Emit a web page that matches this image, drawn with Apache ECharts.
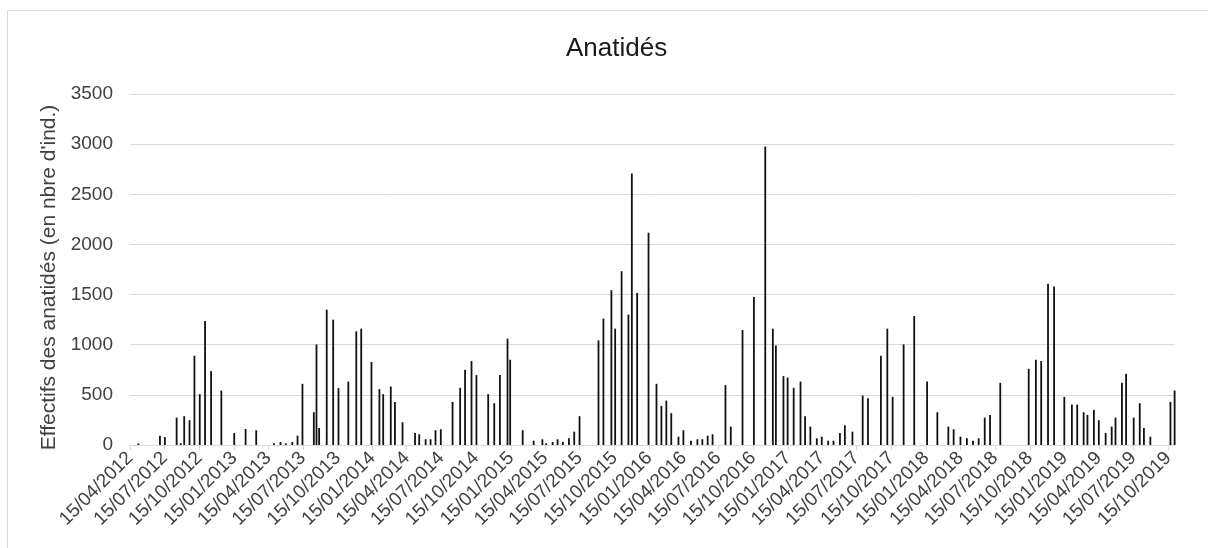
<!DOCTYPE html>
<html>
<head>
<meta charset="utf-8">
<script src="https://cdn.jsdelivr.net/npm/echarts@6/dist/echarts.min.js"></script>
<style>
  html, body { margin: 0; padding: 0; background: #fff; }
  #frame { position: absolute; left: 7px; top: 10px; width: 1300px; height: 700px; border: 1px solid #d9d9d9; box-sizing: border-box; }
  #chart { position: absolute; left: 0; top: 0; width: 1208px; height: 548px; }
</style>
</head>
<body>
<div id="frame"></div>
<div id="chart"></div>
<script>
const titleText = "Anatidés";
const yAxisName = "Effectifs des anatidés (en nbre d'ind.)";

const dates = [
  "2012-05-07","2012-07-03","2012-07-16","2012-08-16","2012-08-27","2012-09-05","2012-09-19","2012-10-02","2012-10-16","2012-10-30",
  "2012-11-15","2012-12-12","2013-01-15","2013-02-14","2013-03-14","2013-04-30","2013-05-17","2013-05-31","2013-06-17","2013-07-01",
  "2013-07-14","2013-08-13","2013-08-20","2013-08-27","2013-09-16","2013-10-03","2013-10-17","2013-11-12","2013-12-03","2013-12-16",
  "2014-01-12","2014-02-02","2014-02-12","2014-03-04","2014-03-15","2014-04-04","2014-05-07","2014-05-18","2014-06-04","2014-06-17",
  "2014-06-30","2014-07-14","2014-08-14","2014-09-03","2014-09-16","2014-10-03","2014-10-16","2014-11-16","2014-12-02","2014-12-17",
  "2015-01-06","2015-01-13","2015-02-15","2015-03-16","2015-04-08","2015-04-18","2015-05-05","2015-05-18","2015-06-01","2015-06-17",
  "2015-07-01","2015-07-15","2015-09-03","2015-09-16","2015-10-07","2015-10-17","2015-11-03","2015-11-21","2015-11-30","2015-12-14",
  "2016-01-13","2016-02-03","2016-02-16","2016-02-29","2016-03-13","2016-04-01","2016-04-14","2016-05-04","2016-05-21","2016-06-03",
  "2016-06-17","2016-06-30","2016-08-03","2016-08-17","2016-09-17","2016-10-17","2016-11-16","2016-12-06","2016-12-14","2017-01-03",
  "2017-01-14","2017-01-30","2017-02-17","2017-03-01","2017-03-15","2017-04-01","2017-04-14","2017-05-01","2017-05-15","2017-06-01",
  "2017-06-14","2017-07-04","2017-07-31","2017-08-14","2017-09-17","2017-10-04","2017-10-18","2017-11-16","2017-12-14","2018-01-17",
  "2018-02-13","2018-03-14","2018-03-28","2018-04-15","2018-05-02","2018-05-18","2018-06-02","2018-06-18","2018-07-02","2018-07-29",
  "2018-10-12","2018-10-31","2018-11-14","2018-12-02","2018-12-18","2019-01-14","2019-02-03","2019-02-17","2019-03-06","2019-03-16",
  "2019-04-02","2019-04-15","2019-05-03","2019-05-19","2019-05-29","2019-06-15","2019-06-26","2019-07-16","2019-08-01","2019-08-12",
  "2019-08-29","2019-10-21","2019-11-01"
];

const counts = [
  15,93,80,273,17,287,247,890,507,1237,
  737,543,120,160,147,17,30,17,30,93,
  610,327,1003,170,1350,1250,567,633,1133,1160,
  827,557,507,583,430,227,120,107,57,57,
  147,157,430,570,750,837,697,507,417,697,
  1060,850,147,43,57,17,30,57,30,67,
  133,287,1043,1260,1543,1160,1733,1300,2707,1517,
  2117,610,390,443,317,83,147,43,57,57,
  93,107,597,183,1147,1477,2977,1160,993,687,
  673,570,633,287,183,67,83,43,43,120,
  197,133,493,467,890,1160,480,1003,1287,633,
  327,183,157,83,67,43,67,273,300,620,
  760,850,837,1607,1580,480,403,403,327,300,
  350,247,120,183,273,620,710,273,417,170,
  83,430,543
];

const toTs = s => { const p = s.split('-').map(Number); return Date.UTC(p[0], p[1] - 1, p[2]); };

// Tick labels: the 15th of Jan/Apr/Jul/Oct, from 15/04/2012 to 15/10/2019
const tickStart = "2012-04-15";
const tickEnd = "2019-10-15";
const tickDates = [];
for (let y = 2012; y <= 2019; y++) {
  for (const m of [0, 3, 6, 9]) {
    const t = Date.UTC(y, m, 15);
    if (t >= toTs(tickStart) && t <= toTs(tickEnd)) tickDates.push(t);
  }
}
const xMin = toTs(tickStart);
const xMax = toTs("2019-11-02");

const yTicks = { min: 0, max: 3500, interval: 500 };

const chart = echarts.init(document.getElementById('chart'));
const pad = n => (n < 10 ? '0' : '') + n;
const FONT = 'Liberation Sans';

chart.setOption({
  animation: false,
  backgroundColor: 'transparent',
  title: {
    text: titleText,
    left: 561,
    top: 31,
    textStyle: { fontFamily: FONT, fontSize: 26, fontWeight: 'normal', color: '#1a1a1a' }
  },
  grid: { left: 130, right: 33, top: 94, bottom: 103, containLabel: false },
  xAxis: {
    type: 'value',
    min: xMin,
    max: xMax,
    axisLine: { show: true, onZero: false, lineStyle: { color: '#d9d9d9', width: 1 } },
    axisTick: { show: true, customValues: tickDates, length: 5, lineStyle: { color: '#d9d9d9' } },
    splitLine: { show: false },
    axisLabel: {
      customValues: tickDates,
      rotate: 45,
      margin: 10,
      fontFamily: FONT,
      fontSize: 19,
      color: '#404040',
      formatter: function (v) {
        const d = new Date(v);
        return pad(d.getUTCDate()) + '/' + pad(d.getUTCMonth() + 1) + '/' + d.getUTCFullYear();
      }
    }
  },
  yAxis: {
    type: 'value',
    min: yTicks.min,
    max: yTicks.max,
    interval: yTicks.interval,
    name: yAxisName,
    nameLocation: 'middle',
    nameGap: 63,
    nameTextStyle: { fontFamily: FONT, fontSize: 21, color: '#404040', padding: [0, 16, 0, 0] },
    axisLine: { show: false },
    axisTick: { show: false },
    splitLine: { lineStyle: { color: '#d9d9d9', width: 1 } },
    axisLabel: { fontFamily: FONT, fontSize: 19, color: '#404040', margin: 17, formatter: v => String(v) }
  },
  series: [{
    type: 'bar',
    data: dates.map((d, i) => [toTs(d), counts[i]]),
    barWidth: 1.8,
    itemStyle: { color: '#111' },
    clip: true
  }]
});
</script>
</body>
</html>
